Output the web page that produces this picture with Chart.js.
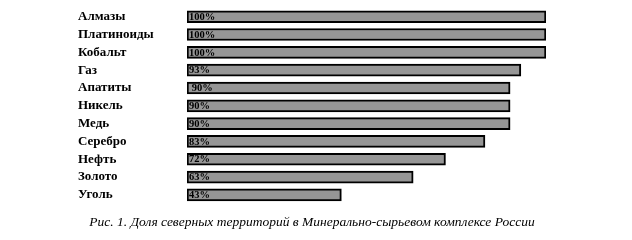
<!DOCTYPE html>
<html>
<head>
<meta charset="utf-8">
<script src="https://cdn.jsdelivr.net/npm/chart.js@4/dist/chart.umd.min.js"></script>
<style>
    html, body { margin: 0; padding: 0; background: #fff; }
    #wrap { width: 632px; height: 240px; }
</style>
</head>
<body>
<div id="wrap"><canvas id="myChart" width="632" height="240"></canvas></div>
<script>
// データ
const minerals = ['Алмазы', 'Платиноиды', 'Кобальт', 'Газ', 'Апатиты', 'Никель', 'Медь', 'Серебро', 'Нефть', 'Золото', 'Уголь'];
const shares = [100, 100, 100, 93, 90, 90, 90, 83, 72, 63, 43];
const shareLabels = ['100%', '100%', '100%', '93%', ' 90%', '90%', '90%', '83%', '72%', '63%', '43%'];
const caption = 'Рис. 1. Доля северных территорий в Минерально-сырьевом комплексе России';

/**
 * バーの中に値ラベルを描画します。
 */
const barLabelPlugin = {
    id: 'barLabels',
    afterDatasetsDraw: (chart) => {
        const ctx = chart.ctx;
        const meta = chart.getDatasetMeta(0);
        ctx.save();
        ctx.font = 'bold 10.5px "Liberation Serif"';
        ctx.fillStyle = '#000';
        ctx.textBaseline = 'middle';
        ctx.textAlign = 'left';
        meta.data.forEach((bar, i) => {
            ctx.fillText(shareLabels[i], bar.base + 2, bar.y + 0.5);
        });
        ctx.restore();
    },
};

const createChart = () => {
    const config = {
        type: 'bar',
        data: {
            labels: minerals,
            datasets: [
                {
                    data: shares,
                    backgroundColor: '#969696',
                    borderColor: '#000',
                    borderWidth: 2,
                    borderSkipped: false,
                    barThickness: 12,
                },
            ],
        },
        options: {
            indexAxis: 'y',
            responsive: false,
            animation: false,
            layout: {
                padding: { left: 78, right: 86, top: 7, bottom: 0 },
            },
            scales: {
                x: {
                    display: false,
                    min: 0,
                    max: 100,
                },
                y: {
                    grid: { display: false },
                    border: { display: false },
                    afterFit: (scale) => {
                        scale.width = 109;
                    },
                    ticks: {
                        autoSkip: false,
                        crossAlign: 'far',
                        padding: 0,
                        color: '#000',
                        font: { family: '"Liberation Serif"', size: 13, weight: 'bold' },
                    },
                },
            },
            plugins: {
                legend: { display: false },
                tooltip: { enabled: false },
                title: {
                    display: true,
                    position: 'bottom',
                    text: caption,
                    color: '#000',
                    font: { family: '"Liberation Serif"', size: 13.5, style: 'italic', weight: 'normal' },
                    padding: { top: 11, bottom: 9 },
                },
            },
        },
        plugins: [barLabelPlugin],
    };

    return new Chart(document.getElementById('myChart'), config);
};

createChart();
</script>
</body>
</html>
